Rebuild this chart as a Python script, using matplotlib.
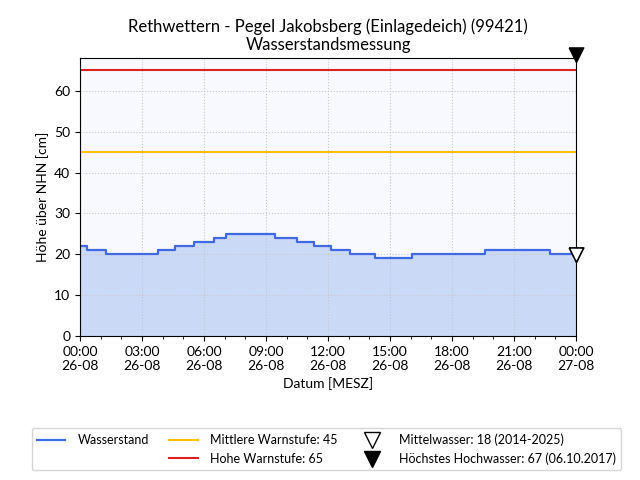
import matplotlib
matplotlib.use("Agg")
import matplotlib.pyplot as plt
import matplotlib.dates as mdates
from matplotlib.lines import Line2D
import pandas as pd

plt.rcParams['font.family'] = ['Lato', 'DejaVu Sans']

# Pegelwerte (Zeitpunkte der Stufenwechsel)
times = ["2025-08-26 00:00", "2025-08-26 00:20", "2025-08-26 01:15", "2025-08-26 03:45",
         "2025-08-26 04:35", "2025-08-26 05:30", "2025-08-26 06:30", "2025-08-26 07:05",
         "2025-08-26 09:25", "2025-08-26 10:30", "2025-08-26 11:20", "2025-08-26 12:10",
         "2025-08-26 13:05", "2025-08-26 14:15", "2025-08-26 16:05", "2025-08-26 19:35",
         "2025-08-26 22:45", "2025-08-27 00:00"]
levels = [22, 21, 20, 21, 22, 23, 24, 25, 24, 23, 22, 21, 20, 19, 20, 21, 20, 20]

warn_mid = 45
warn_high = 65
mittelwasser = 18
hochwasser = 67

title = "Rethwettern - Pegel Jakobsberg (Einlagedeich) (99421)\nWasserstandsmessung"

t = pd.to_datetime(times)
t_end = t[-1]

fig = plt.figure(figsize=(6.4, 4.8), dpi=100)
ax = fig.add_axes([0.125, 0.3, 0.775, 0.579])
ax.set_facecolor('#f8f8ff')

ax.fill_between(t, levels, 0, step='post', color='#cad9f6', linewidth=0)
ax.plot(t, levels, drawstyle='steps-post', color='royalblue', lw=1.6)
ax.axhline(warn_mid, color='#ffc000', lw=1.5)
ax.axhline(warn_high, color='#dd2222', lw=1.5)

# Marker mit Spitze auf dem Wert
tip_down = [(-1, 2), (1, 2), (0, 0), (-1, 2)]
ax.plot([t_end], [mittelwasser], marker=tip_down, ms=21, mfc='white', mec='black',
        mew=1.2, ls='none', clip_on=False, zorder=5)
ax.plot([t_end], [hochwasser], marker=tip_down, ms=21, mfc='black', mec='black',
        ls='none', clip_on=False, zorder=5)

ax.set_xlim(t[0], t_end)
ax.set_ylim(0, 68)
ax.set_yticks(range(0, 61, 10))
ax.xaxis.set_major_locator(mdates.HourLocator(byhour=range(0, 24, 3)))
ax.xaxis.set_minor_locator(mdates.HourLocator())
ax.xaxis.set_major_formatter(mdates.DateFormatter("%H:%M\n%d-%m"))
ax.grid(True, which='major', ls=':', color='#c8c8c8', lw=0.8)
ax.tick_params(labelsize=10)

ax.set_title(title, fontsize=12, linespacing=1.1)
ax.set_xlabel("Datum [MESZ]", fontsize=10)
ax.set_ylabel("Höhe über NHN [cm]", fontsize=10)

handles = [
    Line2D([], [], color='royalblue', lw=1.6),
    Line2D([], [], ls='none'),
    Line2D([], [], color='#ffc000', lw=1.5),
    Line2D([], [], color='#dd2222', lw=1.5),
    Line2D([], [], marker='v', ms=12, mfc='white', mec='black', ls='none'),
    Line2D([], [], marker='v', ms=12, mfc='black', mec='black', ls='none'),
]
labels = ["Wasserstand", "", "Mittlere Warnstufe: 45", "Hohe Warnstufe: 65",
          "Mittelwasser: 18 (2014-2025)", "Höchstes Hochwasser: 67 (06.10.2017)"]
fig.legend(handles, labels, loc='lower center', bbox_to_anchor=(0.51, 0.007), ncol=3,
           fontsize=9, frameon=True, edgecolor='#cccccc', handlelength=2.3,
           handletextpad=1.0, columnspacing=1.6, labelspacing=0.55)

fig.savefig("out.png", dpi=100)
